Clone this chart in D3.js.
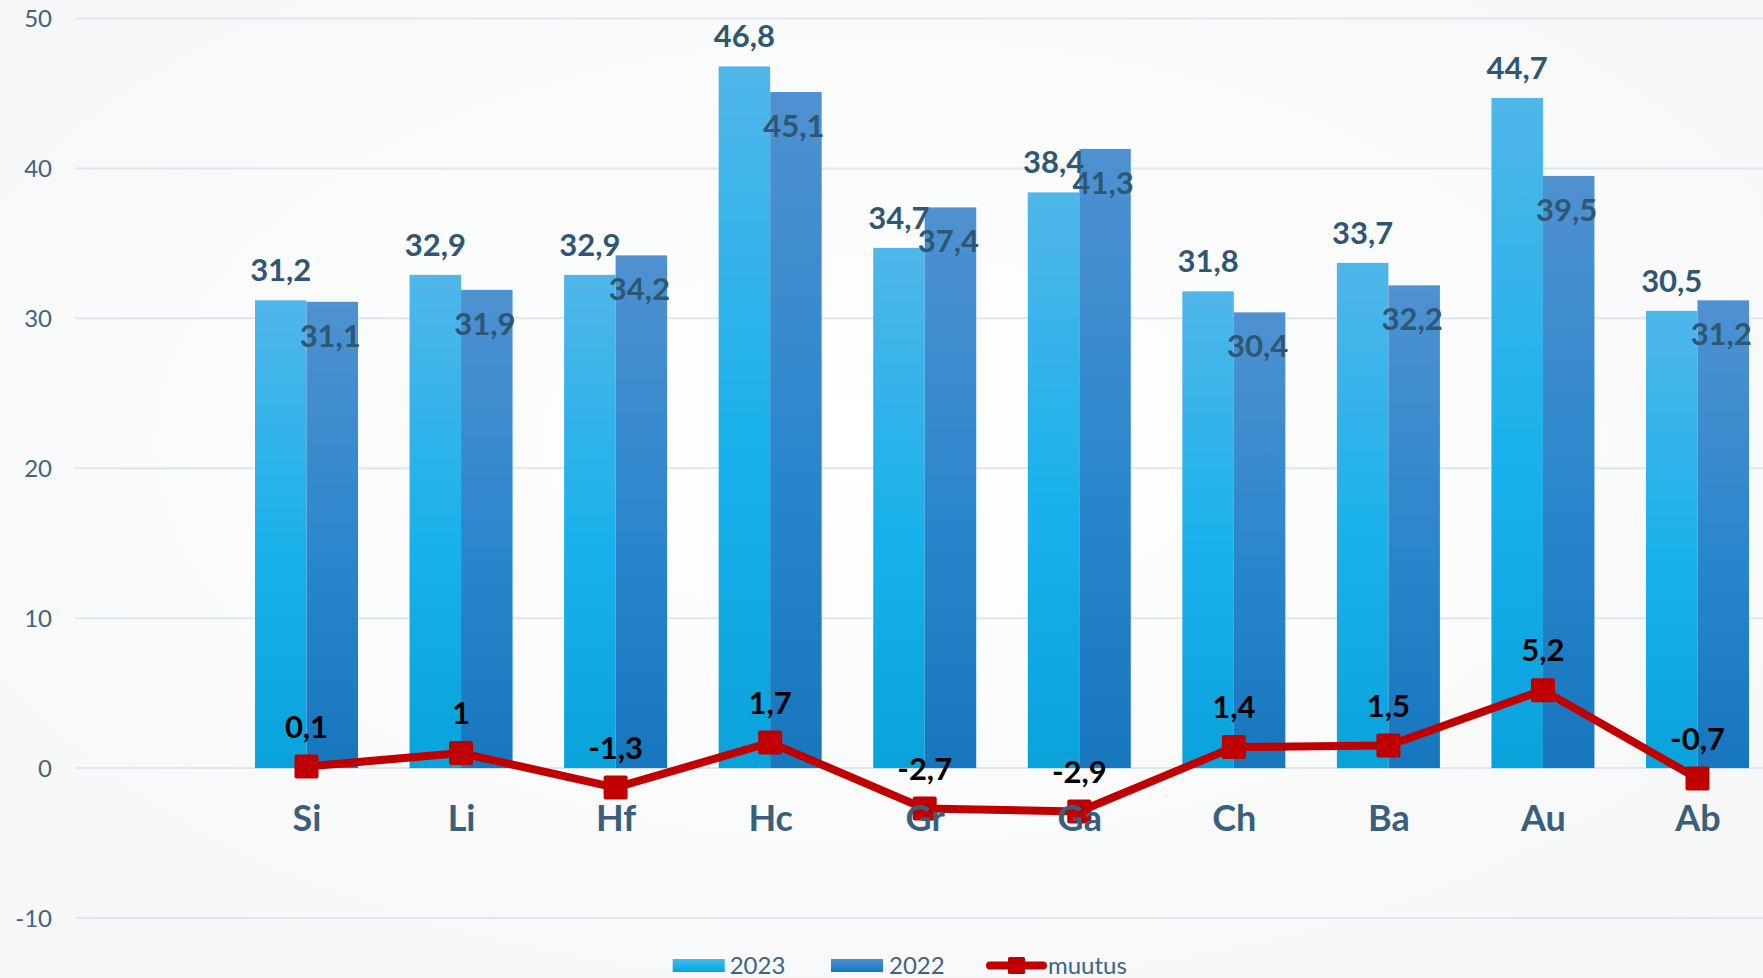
<!DOCTYPE html>
<html>
<head>
<meta charset="utf-8">
<script src="https://cdn.jsdelivr.net/npm/d3@7"></script>
<style>
html,body{margin:0;padding:0;background:#fafafa;}
svg{display:block;font-family:Lato,"Open Sans",sans-serif;}
</style>
</head>
<body>
<svg id="chart" width="1763" height="978"></svg>
<script>
const categories = ["Si","Li","Hf","Hc","Gr","Ga","Ch","Ba","Au","Ab"];
const values2023 = [31.2,32.9,32.9,46.8,34.7,38.4,31.8,33.7,44.7,30.5];
const values2022 = [31.1,31.9,34.2,45.1,37.4,41.3,30.4,32.2,39.5,31.2];
const muutus = [0.1,1,-1.3,1.7,-2.7,-2.9,1.4,1.5,5.2,-0.7];
const yTicks = [-10,0,10,20,30,40,50];
const seriesNames = ["2023","2022","muutus"];

const W = 1763, H = 978;
const svg = d3.select("#chart");
const defs = svg.append("defs");

// background
const bg = defs.append("radialGradient").attr("id","bg").attr("cx","50%").attr("cy","45%").attr("r","75%");
bg.append("stop").attr("offset","0%").attr("stop-color","#ffffff");
bg.append("stop").attr("offset","100%").attr("stop-color","#f5f6f7");
svg.append("rect").attr("width",W).attr("height",H).attr("fill","url(#bg)");

const g23 = defs.append("linearGradient").attr("id","g2023").attr("x1",0).attr("y1",0).attr("x2",0).attr("y2",1);
g23.append("stop").attr("offset","0%").attr("stop-color","#50b6e9");
g23.append("stop").attr("offset","55%").attr("stop-color","#18b1eb");
g23.append("stop").attr("offset","100%").attr("stop-color","#0aa2db");
const g22 = defs.append("linearGradient").attr("id","g2022").attr("x1",0).attr("y1",0).attr("x2",0).attr("y2",1);
g22.append("stop").attr("offset","0%").attr("stop-color","#4f91d1");
g22.append("stop").attr("offset","55%").attr("stop-color","#2a86cc");
g22.append("stop").attr("offset","100%").attr("stop-color","#1676be");

const fmt = v => String(v).replace(".", ",");

const y = d3.scaleLinear().domain([-10,50]).range([918,18.5]);
const x = d3.scalePoint().domain(categories).range([306.5,1697.5]);
const xs = d3.scaleBand().domain(["2023","2022"]).range([-51.5,51.5]);

// gridlines
svg.append("g").selectAll("line").data(yTicks).join("line")
  .attr("x1",75).attr("x2",W).attr("y1",d=>y(d)).attr("y2",d=>y(d))
  .attr("stroke","#dde7f0").attr("stroke-width",2);

// y axis labels
const yAxis = d3.axisLeft(y).tickValues(yTicks).tickSize(0).tickPadding(0).tickFormat(d=>String(d));
const ya = svg.append("g").attr("transform","translate(52,0)").call(yAxis);
ya.select(".domain").remove();
ya.selectAll("text").attr("font-size",24).attr("fill","#3e6482")
  .attr("font-family","Lato,'Open Sans',sans-serif").attr("dy","0.35em");

// bars
const series = [
  {name:"2023", vals:values2023, fill:"url(#g2023)"},
  {name:"2022", vals:values2022, fill:"url(#g2022)"}
];
series.forEach(s=>{
  svg.append("g").selectAll("rect").data(categories).join("rect")
    .attr("x",c=>x(c)+xs(s.name))
    .attr("width",xs.bandwidth())
    .attr("y",(c,i)=>y(s.vals[i]))
    .attr("height",(c,i)=>y(0)-y(s.vals[i]))
    .attr("fill",s.fill);
});

// bar labels
svg.append("g").selectAll("text").data(categories).join("text")
  .attr("x",c=>x(c)+xs("2023")+xs.bandwidth()/2)
  .attr("y",(c,i)=>y(values2023[i])-19)
  .attr("text-anchor","middle").attr("font-size",31).attr("font-weight",700)
  .attr("fill","#2f5673").text((c,i)=>fmt(values2023[i]));
svg.append("g").selectAll("text").data(categories).join("text")
  .attr("x",c=>x(c)+xs("2022")+xs.bandwidth()/2-2)
  .attr("y",(c,i)=>y(values2022[i])+45)
  .attr("text-anchor","middle").attr("font-size",31).attr("font-weight",700)
  .attr("fill","#2f5673").text((c,i)=>fmt(values2022[i]));

// line
const line = d3.line().x((d,i)=>x(categories[i])).y(d=>y(d));
svg.append("path").datum(muutus).attr("d",line).attr("fill","none")
  .attr("stroke","#c00000").attr("stroke-width",8).attr("stroke-linejoin","round");
svg.append("g").selectAll("rect").data(muutus).join("rect")
  .attr("x",(d,i)=>x(categories[i])-12).attr("y",d=>y(d)-12)
  .attr("width",24).attr("height",24).attr("rx",2).attr("fill","#c00000");
svg.append("g").selectAll("text").data(muutus).join("text")
  .attr("x",(d,i)=>x(categories[i]))
  .attr("y",d=>y(d)-29)
  .attr("text-anchor","middle").attr("font-size",31).attr("font-weight",700)
  .attr("fill","#000").text(d=>fmt(d));

// x axis labels
const xAxis = d3.axisBottom(x).tickSize(0).tickPadding(0);
const xa = svg.append("g").attr("transform","translate(0,831)").call(xAxis);
xa.select(".domain").remove();
xa.selectAll("text").attr("font-size",36).attr("font-weight",700).attr("fill","#3a5f7c")
  .attr("font-family","Lato,'Open Sans',sans-serif").attr("dy",0);

// legend
const leg = svg.append("g");
const legX = [672.7, 831, 987];
leg.append("rect").attr("x",legX[0]).attr("y",959).attr("width",52).attr("height",13).attr("fill","url(#g2023)");
leg.append("text").attr("x",legX[0]+57).attr("y",974).attr("font-size",24).attr("fill","#3e6482").text(seriesNames[0]);
leg.append("rect").attr("x",legX[1]).attr("y",959).attr("width",52).attr("height",13).attr("fill","url(#g2022)");
leg.append("text").attr("x",legX[1]+58).attr("y",974).attr("font-size",24).attr("fill","#3e6482").text(seriesNames[1]);
leg.append("line").attr("x1",legX[2]+3).attr("x2",legX[2]+56).attr("y1",965.5).attr("y2",965.5)
  .attr("stroke","#c00000").attr("stroke-width",8).attr("stroke-linecap","round");
leg.append("rect").attr("x",legX[2]+21).attr("y",957).attr("width",17).attr("height",17).attr("rx",1.5).attr("fill","#c00000");
leg.append("text").attr("x",legX[2]+61).attr("y",974).attr("font-size",24).attr("fill","#3e6482").text(seriesNames[2]);
</script>
</body>
</html>
